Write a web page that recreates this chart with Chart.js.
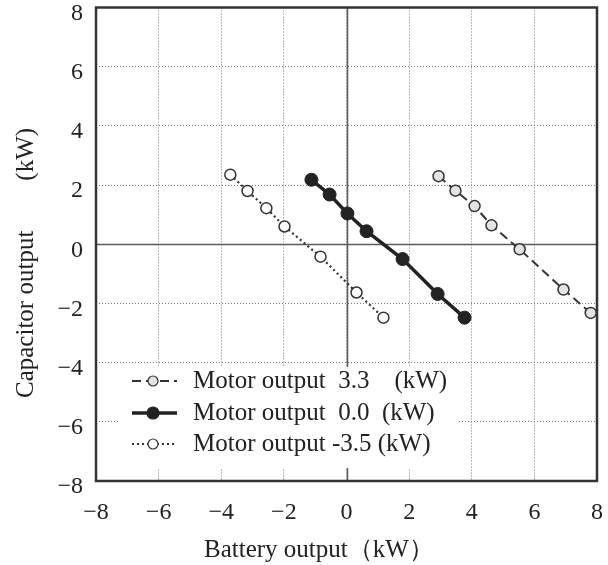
<!DOCTYPE html>
<html>
<head>
<meta charset="utf-8">
<script src="https://cdn.jsdelivr.net/npm/chart.js@4/dist/chart.umd.min.js"></script>
<style>
  html, body { margin: 0; padding: 0; background: #fff; }
  #wrap { width: 608px; height: 565px; }
</style>
</head>
<body>
<div id="wrap"><canvas id="chart" width="608" height="565"></canvas></div>
<script>
// Battery output vs capacitor output for three motor output levels (kW)

const seriesLabels = ['Motor output  3.3\u3000(kW)', 'Motor output  0.0  (kW)', 'Motor output -3.5 (kW)'];

const batteryMotor33 = [2.94, 3.48, 4.09, 4.63, 5.53, 6.93, 7.80];
const capacitorMotor33 = [2.30, 1.81, 1.29, 0.64, -0.17, -1.53, -2.32];

const batteryMotor00 = [-1.12, -0.54, 0.03, 0.64, 1.79, 2.91, 3.77];
const capacitorMotor00 = [2.18, 1.68, 1.04, 0.44, -0.50, -1.68, -2.48];

const batteryMotorM35 = [-3.71, -3.16, -2.56, -1.98, -0.83, 0.32, 1.18];
const capacitorMotorM35 = [2.35, 1.80, 1.22, 0.60, -0.42, -1.63, -2.48];

const axisTicks = [-8, -6, -4, -2, 0, 2, 4, 6, 8];
const xTitle = 'Battery output\uff08kW\uff09';
const yTitle = 'Capacitor output\u3000\u3000(kW)';

const serif = '"Liberation Serif", "Times New Roman", serif';
const ink = '#222';

function toPoints(xs, ys) {
    return xs.map((x, i) => ({ x: x, y: ys[i] }));
}

// zero lines, frame, legend box and axis titles
const decorPlugin = {
    id: 'decor',
    beforeDatasetsDraw(chart) {
        const { ctx, chartArea: a, scales: { x, y } } = chart;
        ctx.save();
        ctx.strokeStyle = '#5a5a5a';
        ctx.lineWidth = 1.5;
        const x0 = Math.round(x.getPixelForValue(0)) + 0.5;
        const y0 = Math.round(y.getPixelForValue(0)) + 0.5;
        ctx.beginPath();
        ctx.moveTo(x0, a.top);
        ctx.lineTo(x0, a.bottom);
        ctx.moveTo(a.left, y0);
        ctx.lineTo(a.right, y0);
        ctx.stroke();
        ctx.strokeStyle = '#333';
        ctx.lineWidth = 2.5;
        ctx.strokeRect(a.left, a.top, a.right - a.left, a.bottom - a.top);
        ctx.restore();
    },
    afterDatasetsDraw(chart) {
        const { ctx } = chart;
        ctx.save();
        // legend
        ctx.fillStyle = '#fff';
        ctx.fillRect(119, 367, 339, 101);
        const rows = [381, 413, 444];
        chart.data.datasets.forEach((ds, i) => {
            const yy = rows[i];
            ctx.strokeStyle = ds.borderColor;
            ctx.lineWidth = ds.borderWidth;
            ctx.setLineDash(ds.borderDash || []);
            ctx.beginPath();
            ctx.moveTo(132, yy);
            ctx.lineTo(177, yy);
            ctx.stroke();
            ctx.setLineDash([]);
            ctx.beginPath();
            ctx.arc(153, yy, ds.pointRadius - 0.5, 0, Math.PI * 2);
            ctx.fillStyle = ds.pointBackgroundColor;
            ctx.fill();
            ctx.lineWidth = 1.2;
            ctx.strokeStyle = ds.pointBorderColor;
            ctx.stroke();
            ctx.fillStyle = ink;
            ctx.font = '25px ' + serif;
            ctx.textAlign = 'left';
            ctx.textBaseline = 'middle';
            ctx.fillText(ds.label, 193, yy);
        });
        // axis titles
        ctx.font = '25px ' + serif;
        ctx.fillStyle = ink;
        ctx.textBaseline = 'middle';
        ctx.textAlign = 'left';
        ctx.fillText(xTitle, 204, 550);
        ctx.translate(26, 398);
        ctx.rotate(-Math.PI / 2);
        ctx.fillText(yTitle, 0, 0);
        ctx.restore();
    }
};

const tickFont = { family: serif, size: 24 };

function minusLabel(value) {
    return axisTicks.includes(value) ? String(value).replace('-', '\u2212') : '';
}

// keep the plot box fixed: no extra room for overhanging tick labels
function fixPadding(scale) {
    scale.paddingTop = 0;
    scale.paddingBottom = 0;
    scale.paddingLeft = 0;
    scale.paddingRight = 0;
}

new Chart(document.getElementById('chart'), {
    type: 'scatter',
    data: {
        datasets: [
            {
                label: seriesLabels[0],
                data: toPoints(batteryMotor33, capacitorMotor33),
                showLine: true,
                borderColor: '#333',
                borderWidth: 2,
                borderDash: [9, 5],
                pointRadius: 5.5,
                pointBackgroundColor: '#e3e3e3',
                pointBorderColor: '#333',
                pointBorderWidth: 1.5,
                clip: false
            },
            {
                label: seriesLabels[1],
                data: toPoints(batteryMotor00, capacitorMotor00),
                showLine: true,
                borderColor: '#222',
                borderWidth: 3.5,
                pointRadius: 6.5,
                pointBackgroundColor: '#222',
                pointBorderColor: '#222',
                pointBorderWidth: 1,
                clip: false
            },
            {
                label: seriesLabels[2],
                data: toPoints(batteryMotorM35, capacitorMotorM35),
                showLine: true,
                borderColor: '#333',
                borderWidth: 2.2,
                borderDash: [2, 3],
                pointRadius: 5.5,
                pointBackgroundColor: '#fff',
                pointBorderColor: '#333',
                pointBorderWidth: 1.5,
                clip: false
            }
        ]
    },
    options: {
        responsive: false,
        animation: false,
        layout: { padding: { top: 7, right: 11, left: 0, bottom: 0 } },
        plugins: {
            legend: { display: false },
            tooltip: { enabled: false }
        },
        scales: {
            x: {
                type: 'linear',
                min: -8,
                max: 8,
                afterFit: scale => { scale.height = 84; fixPadding(scale); },
                grid: { color: '#777', lineWidth: 1, drawTicks: false },
                border: { display: false, dash: [1, 2] },
                ticks: { stepSize: 2, padding: 17, color: ink, font: tickFont, callback: minusLabel }
            },
            y: {
                type: 'linear',
                min: -8,
                max: 8,
                afterFit: scale => { scale.width = 96; fixPadding(scale); },
                grid: { color: '#777', lineWidth: 1, drawTicks: false },
                border: { display: false, dash: [1, 2] },
                ticks: { stepSize: 2, padding: 13, labelOffset: 6, color: ink, font: tickFont, callback: minusLabel }
            }
        }
    },
    plugins: [decorPlugin]
});
</script>
</body>
</html>
